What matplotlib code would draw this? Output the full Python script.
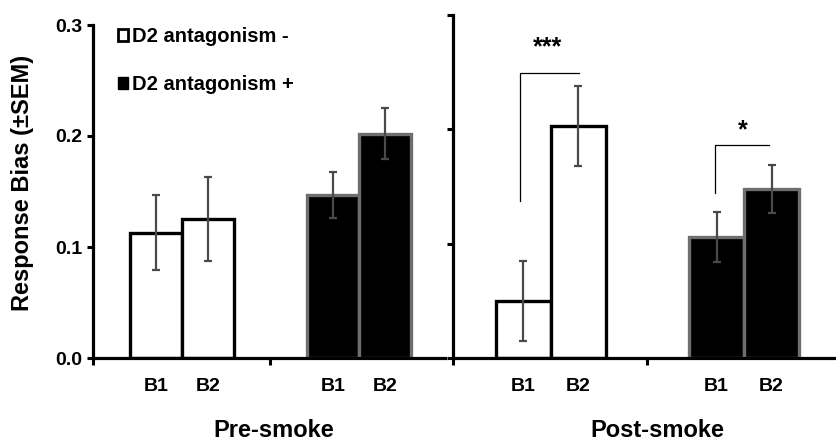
import matplotlib
matplotlib.use("Agg")
import matplotlib.pyplot as plt
from matplotlib.patches import Patch

plt.rcParams['font.family'] = ['Liberation Sans', 'DejaVu Sans']
plt.rcParams['font.weight'] = 'bold'

# ---- data ----
bar_labels = ["B1", "B2", "B1", "B2"]
groups = ["Pre-smoke", "Post-smoke"]
series = ["D2 antagonism -", "D2 antagonism +"]
pre_means = [0.113, 0.125, 0.147, 0.202]
pre_sem = [0.034, 0.038, 0.021, 0.023]
post_means = [0.050, 0.203, 0.106, 0.148]
post_sem = [0.035, 0.035, 0.022, 0.021]
yticks = [0.0, 0.1, 0.2, 0.3]
ytick_labels = ["0.0", "0.1", "0.2", "0.3"]

W, H = 836, 444
fig = plt.figure(figsize=(W / 100, H / 100), dpi=100)

face = ["white", "white", "black", "black"]
edge = ["black", "black", "#6e6e6e", "#6e6e6e"]

def px_axes(l, t, r, b):
    return fig.add_axes([l / W, 1 - b / H, (r - l) / W, (b - t) / H])

axL = px_axes(93, 25, 445, 358)
axR = px_axes(453, 15, 836, 358)

panels = [
    (axL, pre_means, pre_sem, [1, 2, 4.4, 5.4], (-0.21, 6.56), 3.2, True, 0.514, 333),
    (axR, post_means, post_sem, [1, 2, 4.51, 5.51], (-0.28, 6.68), 3.25, False, 0.533, 343),
]

for ax, means, sem, pos, xlim, div, show_lbl, gx, hpx in panels:
    ax.bar(pos, means, width=1.0, color=face, edgecolor=edge, linewidth=2.4, zorder=2)
    ax.errorbar(pos, means, yerr=sem, fmt='none', ecolor='#4a4a4a',
                elinewidth=1.6, capsize=2.8, capthick=1.6, zorder=3)
    ax.set_xlim(*xlim)
    ax.set_ylim(0, 0.3)
    ax.set_yticks(yticks)
    if show_lbl:
        ax.set_yticklabels(ytick_labels, fontsize=14, fontweight='bold')
    else:
        ax.set_yticklabels([])
    ax.set_xticks([xlim[0], div])
    ax.set_xticklabels([])
    ax.tick_params(axis='y', direction='out', length=4, width=2.2, pad=4)
    ax.tick_params(axis='x', direction='out', length=5, width=2.2)
    for s in ['top', 'right']:
        ax.spines[s].set_visible(False)
    for s in ['left', 'bottom']:
        ax.spines[s].set_linewidth(2.3)
    ax.spines['left'].set_capstyle('projecting')
    tr = ax.get_xaxis_transform()
    for p, lab in zip(pos, bar_labels):
        ax.text(p, -28 / hpx, lab, transform=tr, ha='center', va='center',
                fontsize=14, fontweight='bold')
    ax.text(gx, -72 / hpx, groups[0] if show_lbl else groups[1],
            transform=ax.transAxes, ha='center', va='center',
            fontsize=17, fontweight='bold')
    ax.patch.set_visible(False)

axL.set_ylabel("Response Bias (±SEM)", fontsize=17, fontweight='bold')
axL.yaxis.set_label_coords(-0.168, 0.526)

# significance brackets (post-smoke)
axR.plot([0.94, 0.94, 2.01], [0.137, 0.249, 0.249], color='black', lw=0.9)
axR.text(1.43, 0.272, "***", ha='center', va='center', fontsize=18, fontweight='bold')
axR.plot([4.48, 4.48, 5.46], [0.144, 0.186, 0.186], color='black', lw=0.9)
axR.text(4.99, 0.199, "*", ha='center', va='center', fontsize=18, fontweight='bold')

handles = [Patch(facecolor='white', edgecolor='black', linewidth=2.0),
           Patch(facecolor='black', edgecolor='black', linewidth=1.0)]
leg = fig.legend(handles, series, loc='upper left',
                 bbox_to_anchor=(118 / W, 1 - 27 / H), frameon=False,
                 fontsize=14.5, handlelength=0.5, handleheight=0.5,
                 handletextpad=0.2, labelspacing=1.45, borderpad=0,
                 borderaxespad=0)
for t in leg.get_texts():
    t.set_fontweight('bold')

fig.savefig("out.png", dpi=100)
